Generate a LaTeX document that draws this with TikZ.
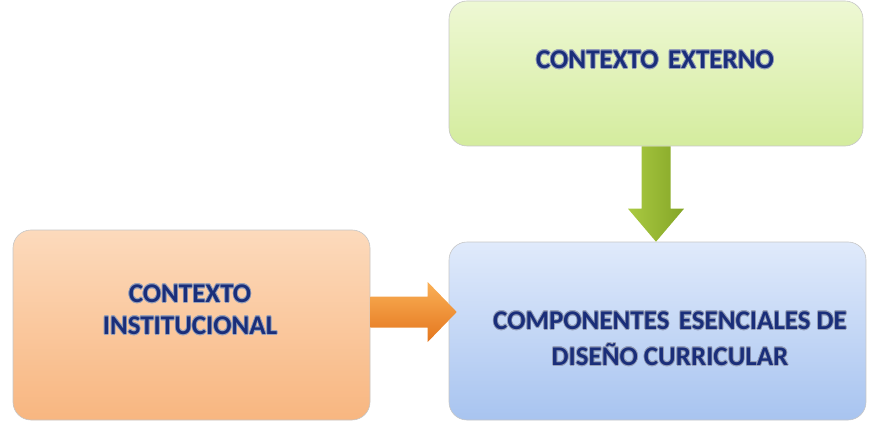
\documentclass[tikz,border=0pt]{standalone}
\usepackage{fontspec}
\setmainfont{Carlito}
\usepackage{contour}
\usetikzlibrary{calc}

\definecolor{azul}{RGB}{26,46,122}
\definecolor{halo}{RGB}{150,160,185}
\definecolor{verdeA}{RGB}{238,248,212}
\definecolor{verdeB}{RGB}{212,236,158}
\definecolor{naranjaA}{RGB}{252,218,188}
\definecolor{naranjaB}{RGB}{248,182,128}
\definecolor{celesteA}{RGB}{224,234,251}
\definecolor{celesteB}{RGB}{168,196,240}
\definecolor{flechaverdeA}{RGB}{170,202,66}
\definecolor{flechaverdeB}{RGB}{196,222,110}
\definecolor{flechaverdeC}{RGB}{132,165,38}
\definecolor{flechanaranjaA}{RGB}{250,176,86}
\definecolor{flechanaranjaB}{RGB}{244,148,50}
\definecolor{flechanaranjaC}{RGB}{228,118,30}

\contourlength{0.7pt}
\newcommand{\rotulo}[1]{\contour{halo}{#1}}

\tikzset{
  caja/.style={rounded corners=18pt, draw=gray!45, line width=.6pt, inner sep=0pt},
  texto/.style={font=\bfseries\fontsize{27}{32}\selectfont, text=azul, align=center}
}

\begin{document}
\begin{tikzpicture}[x=1pt, y=-1pt]
    \def\sw{14.5} \def\hw{28} \def\hl{33}
    \def\osw{15.5} \def\ohw{30} \def\ohl{29}
    \useasboundingbox (0,0) rectangle (872,422);

    \node[caja, minimum width=414pt, minimum height=145pt,
          top color=verdeA, bottom color=verdeB] (externo) at (656,73.5) {};
    \node[caja, minimum width=357pt, minimum height=190pt,
          top color=naranjaA, bottom color=naranjaB] (institucional) at (191.5,325) {};
    \node[caja, minimum width=417pt, minimum height=178pt,
          top color=celesteA, bottom color=celesteB] (componentes) at (657.5,331) {};

    \node[texto] (externotxt) at (655,60) {\rotulo{CONTEXTO\hspace{.35em}EXTERNO}};
    \node[texto] (institucionaltxt) at (190,310)
        {\rotulo{CONTEXTO}\\\rotulo{INSTITUCIONAL}};
    \node[texto] (componentestxt) at (670,339)
        {\rotulo{COMPONENTES\hspace{.35em}ESENCIALES DE}\\[4pt]\rotulo{DISEÑO CURRICULAR}};

    \coordinate (ga) at (externo.south);
    \coordinate (gb) at (externo.south |- componentes.north);
    \shade[left color=flechaverdeA, middle color=flechaverdeB, right color=flechaverdeC]
        ($(ga)+(-\sw,0)$) -- ($(gb)+(-\sw,-\hl)$) -- ($(gb)+(-\hw,-\hl)$) -- (gb)
        -- ($(gb)+(\hw,-\hl)$) -- ($(gb)+(\sw,-\hl)$) -- ($(ga)+(\sw,0)$) -- cycle;

    \coordinate (oa) at ($(institucional.east)+(0,-13)$);
    \coordinate (ob) at ($(oa -| componentes.west)+(8,0)$);
    \shade[top color=flechanaranjaA, middle color=flechanaranjaB, bottom color=flechanaranjaC]
        ($(oa)+(0,-\osw)$) -- ($(ob)+(-\ohl,-\osw)$) -- ($(ob)+(-\ohl,-\ohw)$) -- (ob)
        -- ($(ob)+(-\ohl,\ohw)$) -- ($(ob)+(-\ohl,\osw)$) -- ($(oa)+(0,\osw)$) -- cycle;
\end{tikzpicture}
\end{document}
